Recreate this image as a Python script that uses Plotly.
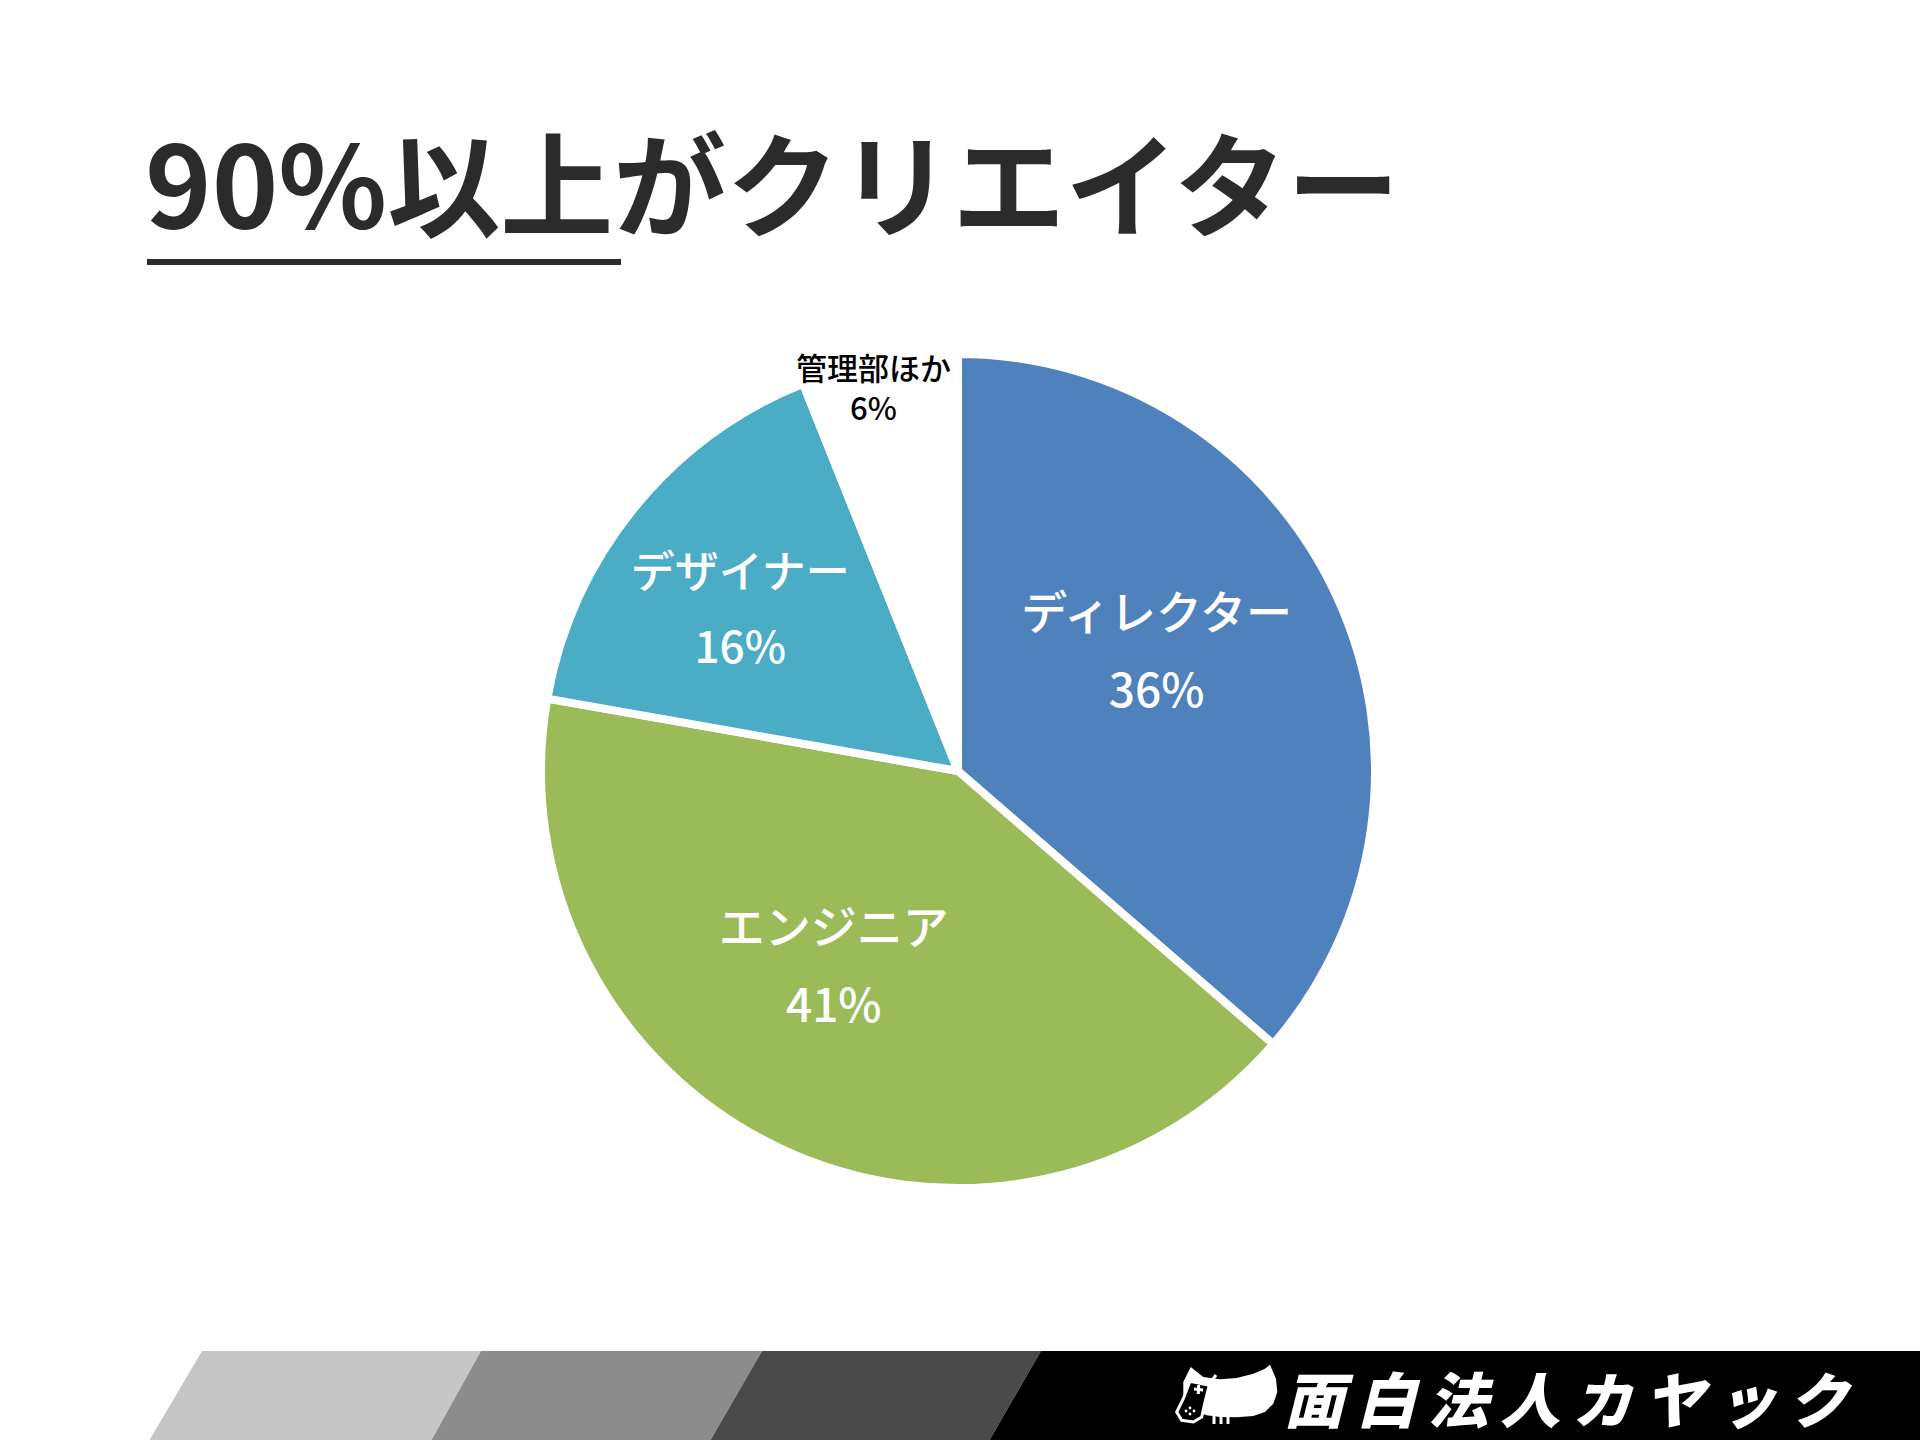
import math
import plotly.graph_objects as go

# ---- data ----
labels = ["ディレクター", "エンジニア", "デザイナー", "管理部ほか"]
values = [36, 41, 16, 6]
slice_colors = ["#4F81BD", "#9BBB59", "#4BACC6", "#FFFFFF"]
label_colors = ["white", "white", "white", "black"]
title_text = "90%以上がクリエイター"
logo_text = "面白法人カヤック"

W, H = 1920, 1440
CX, CY, R = 958, 771, 417  # pie centre / radius in page pixels (layout)


def px(x):
    return x / W


def py(y):
    return 1 - y / H


S = "<span style='font-size:46px'>"
E = "</span>"
PAD = "<span style='font-size:1px'>&nbsp;</span>"
RPAD = S + "\u3000" + E + "<span style='font-size:20px'>\u3000</span>"
# padding spans only nudge where the library centres each label inside its slice
tpl_director = S + "%{label}" + E + "<br>" + S + "%{value}%" + E + "<br>" + PAD
tpl_engineer = S + "%{label}" + E + RPAD + "<br>" + S + "%{value}%" + E + RPAD
tpl_designer = PAD + "<br>" + S + "%{label}" + E + "<br>" + S + "%{value}%" + E

fig = go.Figure()
fig.add_trace(go.Pie(
    labels=labels,
    values=values,
    sort=False,
    direction="clockwise",
    rotation=0,
    marker=dict(colors=slice_colors, line=dict(color="white", width=8)),
    texttemplate=[tpl_director, tpl_engineer, tpl_designer, ""],
    textposition=["inside", "inside", "inside", "none"],
    insidetextorientation="horizontal",
    textfont=dict(family="Noto Sans CJK JP", size=60, color=label_colors, weight=500),
    domain=dict(x=[px(CX - R), px(CX + R)], y=[py(CY + R), py(CY - R)]),
    automargin=False,
    showlegend=False,
    hoverinfo="skip",
))

# label of the small slice, placed on its bisector near the rim
total = sum(values)
idx = 3
frac = (sum(values[:idx]) + values[idx] / 2) / total
ang = 2 * math.pi * frac
lx = CX + 0.94 * R * math.sin(ang) - 10
ly = CY - 0.94 * R * math.cos(ang)

shapes = []
# title underline
shapes.append(dict(type="line", xref="paper", yref="paper", x0=px(147), x1=px(621), y0=py(262), y1=py(262),
                   line=dict(color="#2b2b2b", width=6)))


def poly(points, color, line_color=None, lw=0):
    path = "M " + " L ".join(f"{px(x):.5f},{py(y):.5f}" for x, y in points) + " Z"
    return dict(type="path", xref="paper", yref="paper", path=path, fillcolor=color,
                line=dict(width=lw, color=line_color or color))


def seg(x0, y0, x1, y1, color="#ffffff", w=3):
    return dict(type="line", xref="paper", yref="paper", x0=px(x0), y0=py(y0), x1=px(x1), y1=py(y1),
                line=dict(color=color, width=w))


# bottom banner
top, bot = 1351, 1441
shapes.append(poly([(202, top), (481, top), (431, bot), (149, bot)], "#c6c6c6"))
shapes.append(poly([(481, top), (762, top), (710, bot), (431, bot)], "#8c8c8c"))
shapes.append(poly([(762, top), (1041, top), (989, bot), (710, bot)], "#4a4a4a"))
shapes.append(poly([(1041, top), (1921, top), (1921, bot), (989, bot)], "#000000"))

# mascot icon (kayak + controller)
shapes.append(poly([(1190.7, 1367), (1203.3, 1377), (1220, 1379.3), (1236.7, 1378), (1253.3, 1373.7),
                    (1265, 1368.7), (1270, 1364.7), (1276, 1378.7), (1277.3, 1392), (1273.3, 1403.7),
                    (1265, 1412), (1253.3, 1416), (1236.7, 1417.3), (1220, 1417), (1206.7, 1415.3),
                    (1190, 1408.7), (1183.3, 1395.3), (1183.3, 1382)], "#ffffff"))
for lx_ in (1214, 1221, 1228):
    shapes.append(seg(lx_, 1414, lx_, 1424, w=3))
shapes.append(seg(1208, 1386, 1216, 1375, w=3))
shapes.append(poly([(1190, 1381.3), (1209.3, 1385.3), (1205, 1402), (1201.7, 1417), (1193.3, 1422),
                    (1181.7, 1420.3), (1176.7, 1412), (1183.3, 1398.7)], "#000000", "#ffffff", 3))
shapes.append(seg(1194, 1389, 1203, 1390, w=3))
shapes.append(seg(1198.7, 1385, 1198.3, 1394, w=3))
for dx, dy in ((1186, 1411), (1190, 1408), (1190, 1414), (1194, 1411)):
    shapes.append(dict(type="circle", xref="paper", yref="paper", x0=px(dx - 1.4), x1=px(dx + 1.4),
                       y0=py(dy + 1.4), y1=py(dy - 1.4), fillcolor="#ffffff", line=dict(width=0)))

annotations = [
    dict(text=title_text, x=px(143), y=py(179), xref="paper", yref="paper", xanchor="left", yanchor="middle",
         showarrow=False, font=dict(family="Noto Sans CJK JP", size=113, color="#2b2b2b", weight=700)),
    dict(text="\u2009".join(logo_text), x=px(1568), y=py(1396), xref="paper", yref="paper",
         xanchor="center", yanchor="middle",
         showarrow=False, font=dict(family="Noto Sans CJK JP", size=60, color="white", weight=900, style="italic")),
    dict(text=f"{labels[idx]}<br>{values[idx]}%", x=px(lx), y=py(ly), xref="paper", yref="paper",
         xanchor="center", yanchor="middle", showarrow=False,
         font=dict(family="Noto Sans CJK JP", size=31, color=label_colors[idx], weight=500)),
]

fig.update_layout(
    width=W, height=H,
    margin=dict(l=0, r=0, t=0, b=0),
    paper_bgcolor="white", plot_bgcolor="white",
    shapes=shapes, annotations=annotations,
)

fig.write_html("out.html", config={"displayModeBar": False},
               post_script="document.body.style.margin='0';document.body.style.overflow='hidden';")
